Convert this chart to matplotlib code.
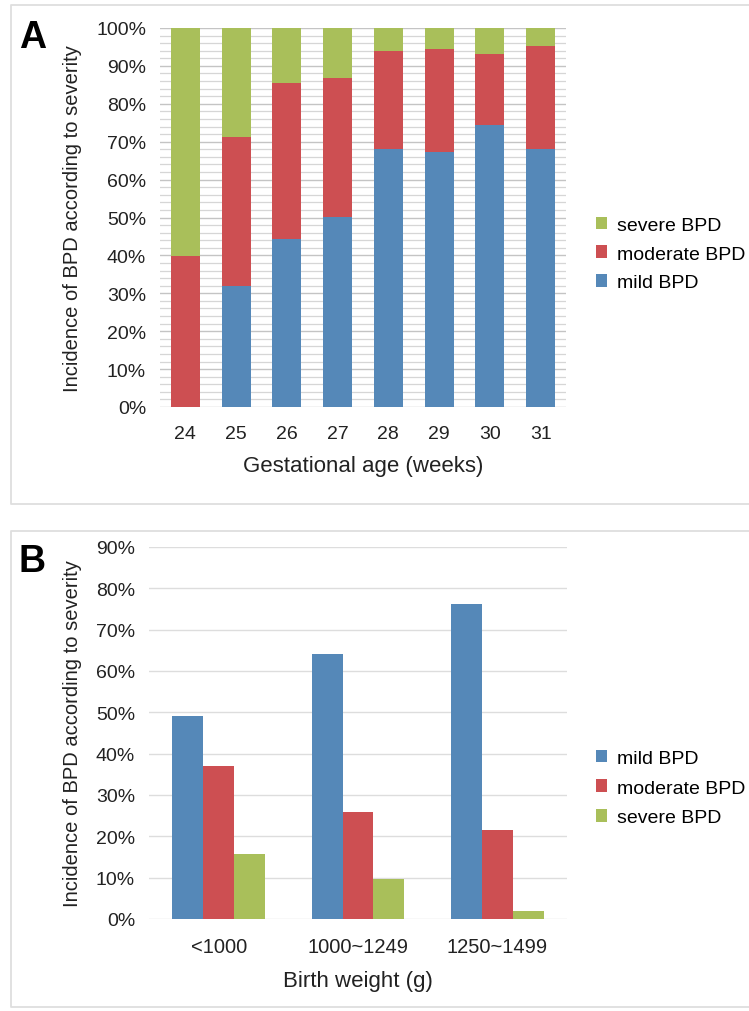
import numpy as np
import matplotlib.pyplot as plt
from matplotlib.lines import Line2D
from matplotlib.ticker import MultipleLocator, PercentFormatter

plt.rcParams['font.family'] = ['Liberation Sans', 'DejaVu Sans']

# Panel A: gestational age, stacked shares
weeks = ['24', '25', '26', '27', '28', '29', '30', '31']
mild_a = [0.0, 32.0, 44.2, 50.1, 68.2, 67.3, 74.3, 68.2]
moderate_a = [39.9, 39.3, 41.3, 36.6, 25.6, 27.1, 18.9, 27.1]
severe_a = [60.1, 28.7, 14.5, 13.3, 6.2, 5.6, 6.8, 4.7]

# Panel B: birth weight, grouped bars
weights = ['<1000', '1000~1249', '1250~1499']
mild_b = [49.1, 64.2, 76.1]
moderate_b = [36.9, 26.0, 21.6]
severe_b = [15.7, 9.6, 1.9]

c_mild = '#5588B8'
c_mod = '#CD4F52'
c_sev = '#A9BF5A'
ylab = 'Incidence of BPD according to severity'

fig = plt.figure(figsize=(7.49, 10.12), dpi=100)
W, H = 749, 1012

def fx(px):
    return px / W

def fy(py):
    return 1 - py / H

# panel frames (open on the right, like the cropped original)
for top, bot in [(6, 505), (532, 1008)]:
    xs = [fx(760), fx(11), fx(11), fx(760)]
    ys = [fy(top), fy(top), fy(bot), fy(bot)]
    fig.add_artist(Line2D(xs, ys, transform=fig.transFigure,
                          color='#dedede', linewidth=1.3))

# ---- Panel A ----
axa = fig.add_axes([fx(160), fy(408), fx(566 - 160), fy(29) - fy(408)])
x = np.arange(len(weeks))
bw = 0.57
ma = np.array(mild_a)
mo = np.array(moderate_a)
se = np.array(severe_a)
b1 = axa.bar(x, ma, bw, color=c_mild, label='mild BPD', zorder=3)
b2 = axa.bar(x, mo, bw, bottom=ma, color=c_mod, label='moderate BPD', zorder=3)
b3 = axa.bar(x, se, bw, bottom=ma + mo, color=c_sev, label='severe BPD', zorder=3)
axa.set_xlim(-0.5, len(weeks) - 0.5)
axa.set_ylim(0, 100)
axa.yaxis.set_major_locator(MultipleLocator(10))
axa.yaxis.set_minor_locator(MultipleLocator(2))
axa.yaxis.set_major_formatter(PercentFormatter(decimals=0))
axa.grid(axis='y', which='major', color='#c4c4c4', linewidth=1.0, zorder=0)
axa.grid(axis='y', which='minor', color='#d6d6d6', linewidth=0.9, zorder=0)
axa.set_xticks(x)
axa.set_xticklabels(weeks)
axa.tick_params(axis='both', which='both', length=0, labelsize=14, colors='#222222')
axa.tick_params(axis='x', pad=13)
axa.tick_params(axis='y', pad=10)
for s in axa.spines.values():
    s.set_visible(False)
axa.set_xlabel('Gestational age (weeks)', fontsize=16, labelpad=9, color='#222222')
axa.set_ylabel(ylab, fontsize=14.5, labelpad=10, color='#222222')
axa.legend(handles=[b3, b2, b1], loc='center left',
           bbox_to_anchor=(fx(586), fy(255)), bbox_transform=fig.transFigure,
           frameon=False, fontsize=14, handlelength=0.6, handleheight=0.6,
           handletextpad=0.5, labelspacing=0.6, borderpad=0)
fig.text(fx(33), fy(38), 'A', fontsize=27, fontweight='bold', ha='center', va='center')

# ---- Panel B ----
axb = fig.add_axes([fx(149), fy(920), fx(567 - 149), fy(548) - fy(920)])
xb = np.arange(len(weights))
w = 0.222
c1 = axb.bar(xb - w, mild_b, w, color=c_mild, label='mild BPD', zorder=3)
c2 = axb.bar(xb, moderate_b, w, color=c_mod, label='moderate BPD', zorder=3)
c3 = axb.bar(xb + w, severe_b, w, color=c_sev, label='severe BPD', zorder=3)
axb.set_xlim(-0.5, len(weights) - 0.5)
axb.set_ylim(0, 90)
axb.yaxis.set_major_locator(MultipleLocator(10))
axb.yaxis.set_major_formatter(PercentFormatter(decimals=0))
axb.grid(axis='y', color='#dddddd', linewidth=1.0, zorder=0)
axb.set_xticks(xb)
axb.set_xticklabels(weights)
axb.tick_params(axis='both', length=0, labelsize=14, colors='#222222')
axb.tick_params(axis='x', labelsize=14.5, pad=13)
axb.tick_params(axis='y', pad=10)
for s in axb.spines.values():
    s.set_visible(False)
axb.set_xlabel('Birth weight (g)', fontsize=16, labelpad=10, color='#222222')
axb.set_ylabel(ylab, fontsize=14.5, labelpad=10, color='#222222')
axb.legend(handles=[c1, c2, c3], loc='center left',
           bbox_to_anchor=(fx(586), fy(789)), bbox_transform=fig.transFigure,
           frameon=False, fontsize=14, handlelength=0.6, handleheight=0.6,
           handletextpad=0.5, labelspacing=0.65, borderpad=0)
fig.text(fx(32), fy(562), 'B', fontsize=27, fontweight='bold', ha='center', va='center')

fig.savefig('out.png', dpi=100)
